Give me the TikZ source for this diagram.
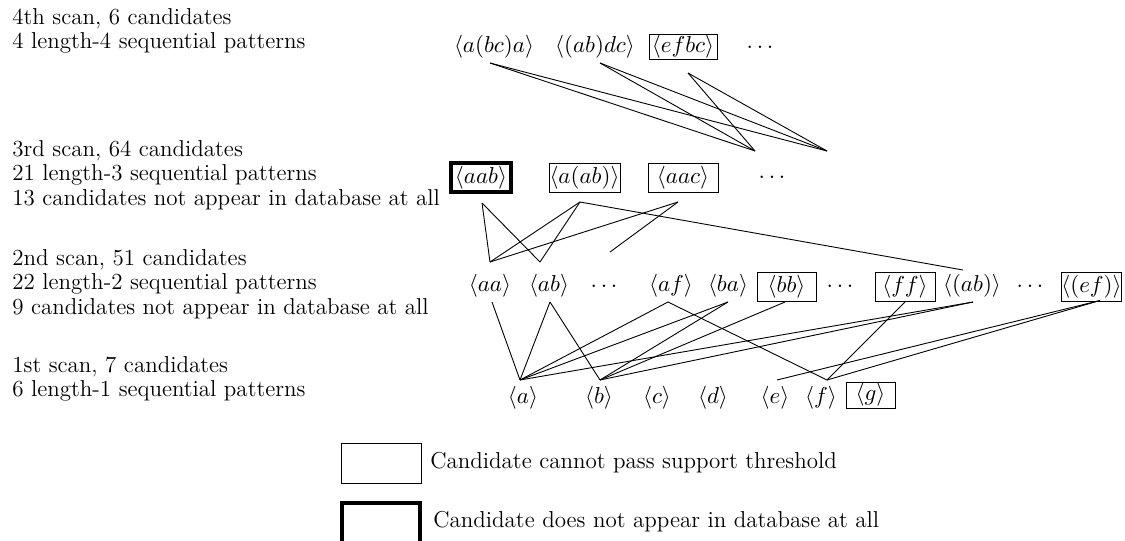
\RequirePackage{fix-cm}
\documentclass[tikz,border=0pt]{standalone}
\usetikzlibrary{calc}
\begin{document}
\begin{tikzpicture}[x=0.5pt,y=-0.5pt,
  every node/.style={font=\fontsize{11.5}{12.25}\selectfont},
  lbl/.style={inner sep=0pt,anchor=west,align=left},
  pat/.style={inner sep=0pt},
  bx/.style={pat,draw,line width=0.5pt,minimum height=14.5pt},
  tbx/.style={bx,line width=2pt},
  conn/.style={line width=0.45pt}]
\useasboundingbox (0,0) rectangle (1125,541);

% left labels
\node[lbl] (t4) at (12,31) {4th scan, 6 candidates\\4 length-4 sequential patterns};
\node[lbl] (t3) at (12,175) {3rd scan, 64 candidates\\21 length-3 sequential patterns\\13 candidates not appear in database at all};
\node[lbl] (t2) at (12,284) {2nd scan, 51 candidates\\22 length-2 sequential patterns\\9 candidates not appear in database at all};
\node[lbl] (t1) at (12,379) {1st scan, 7 candidates\\6 length-1 sequential patterns};

% row 4
\node[pat] (r4a) at (494,47) {$\langle a(bc)a\rangle$};
\node[pat] (r4b) at (595,47) {$\langle (ab)dc\rangle$};
\node[bx,minimum width=34pt,minimum height=12.5pt] (r4c) at (683,46.5) {$\langle efbc\rangle$};
\node[pat] (r4d) at (760,47) {$\ldots$};
\coordinate (c1) at (755,151);
\coordinate (c2) at (827,151);

% row 3
\node[tbx,minimum width=30pt] (r3a) at (481,177.5) {$\langle aab\rangle$};
\node[bx,minimum width=35.5pt] (r3b) at (584.5,177.5) {$\langle a(ab)\rangle$};
\node[bx,minimum width=35pt] (r3c) at (683,177.5) {$\langle aac\rangle$};
\node[pat] (r3d) at (772,177) {$\ldots$};

% row 2
\node[pat] (aa) at (490,286) {$\langle aa\rangle$};
\node[pat] (ab) at (549,286) {$\langle ab\rangle$};
\node[pat] (d21) at (604,286) {$\ldots$};
\node[pat] (af) at (671,286) {$\langle af\rangle$};
\node[pat] (ba) at (728,286) {$\langle ba\rangle$};
\node[bx,minimum width=29.5pt] (bb) at (786.5,286.5) {$\langle bb\rangle$};
\node[pat] (d22) at (840,286) {$\ldots$};
\node[bx,minimum width=30pt] (ff) at (905,286.5) {$\langle ff\rangle$};
\node[pat] (pab) at (972,286) {$\langle (ab)\rangle$};
\node[pat] (d23) at (1030,286) {$\ldots$};
\node[bx,minimum width=29.5pt] (ef) at (1091.5,286.5) {$\langle (ef)\rangle$};
\coordinate (q3) at (610,252);

% row 1
\node[pat] (a) at (523,398) {$\langle a\rangle$};
\node[pat] (b) at (599,398) {$\langle b\rangle$};
\node[pat] (c) at (657,398) {$\langle c\rangle$};
\node[pat] (d) at (713,398) {$\langle d\rangle$};
\node[pat] (e) at (775,398) {$\langle e\rangle$};
\node[pat] (f) at (821,398) {$\langle f\rangle$};
\node[bx,minimum width=24.5pt,minimum height=13pt] (g) at (870.5,395) {$\langle g\rangle$};
\coordinate (e0) at (777,380);

% connectors row 4
\foreach \n/\dx/\dy in {r4a/-4/16, r4b/5/16, r4c/5/26.5}{
  \draw[conn] ($(\n)+(\dx,\dy)$) -- (c1);
  \draw[conn] ($(\n)+(\dx,\dy)$) -- (c2);
}

% connectors row 3 -> row 2
\draw[conn] ($(r3a)+(1,25.5)$) -- ($(aa)+(0,-24)$);
\draw[conn] ($(r3a)+(1,25.5)$) -- ($(ab)+(-9,-24)$);
\draw[conn] ($(r3b)+(-4.5,24.5)$) -- ($(aa)+(0,-24)$);
\draw[conn] ($(r3b)+(-4.5,24.5)$) -- ($(ab)+(-9,-24)$);
\draw[conn] ($(r3c)+(-5,24.5)$) -- ($(aa)+(0,-24)$);
\draw[conn] ($(r3c)+(-5,24.5)$) -- (q3);
\draw[conn] ($(r3b)+(-4.5,24.5)$) -- ($(pab)+(-9,-16)$);

% connectors row 2 -> row 1
\draw[conn] ($(aa)+(2,16)$) -- ($(a)+(-3,-18)$);
\draw[conn] ($(ab)+(1,16)$) -- ($(a)+(-3,-18)$);
\draw[conn] ($(ab)+(1,16)$) -- ($(b)+(1,-18)$);
\draw[conn] ($(af)+(-3,16)$) -- ($(a)+(-3,-18)$);
\draw[conn] ($(af)+(-3,16)$) -- ($(f)+(6,-18)$);
\draw[conn] ($(ba)+(0,16)$) -- ($(a)+(-3,-18)$);
\draw[conn] ($(ba)+(0,16)$) -- ($(b)+(1,-18)$);
\draw[conn] ($(bb)+(-1.5,15.5)$) -- ($(b)+(1,-18)$);
\draw[conn] ($(ff)+(0,15.5)$) -- ($(f)+(6,-18)$);
\draw[conn] ($(pab)+(1,16)$) -- ($(a)+(-3,-18)$);
\draw[conn] ($(pab)+(1,16)$) -- ($(b)+(1,-18)$);
\draw[conn] ($(ef)+(8.5,14)$) -- (e0);
\draw[conn] ($(ef)+(8.5,14)$) -- ($(f)+(6,-18)$);

% legend
\node[bx,minimum width=40pt,minimum height=20pt] (k1) at (381,463) {};
\node[lbl] (k1t) at (430,463) {Candidate cannot pass support threshold};
\node[tbx,minimum width=39pt,minimum height=20pt] (k2) at (381,523) {};
\node[lbl] (k2t) at (433,522) {Candidate does not appear in database at all};
\end{tikzpicture}
\end{document}
